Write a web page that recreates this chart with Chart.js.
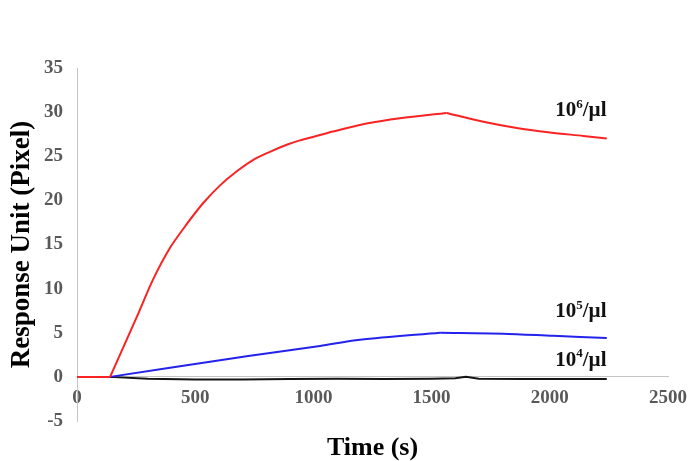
<!DOCTYPE html>
<html>
<head>
<meta charset="utf-8">
<script src="https://cdn.jsdelivr.net/npm/chart.js@4.4.1/dist/chart.umd.min.js"></script>
<style>
  body { margin: 0; background: #fff; }
  #wrap { width: 700px; height: 461px; }
</style>
</head>
<body>
<div id="wrap"><canvas id="sensor-chart" width="700" height="461"></canvas></div>
<script>
// response curves (time in s, response in pixel)
const redTime   = [0, 140, 253, 323, 393, 464, 534, 605, 676, 746, 816, 887, 943, 1028, 1083, 1225, 1366, 1564, 1719, 1860, 2001, 2142, 2241];
const redResp   = [0, 0, 6.8, 11.1, 14.6, 17.3, 19.7, 21.7, 23.3, 24.6, 25.5, 26.3, 26.8, 27.4, 27.8, 28.7, 29.3, 29.9, 28.9, 28.2, 27.7, 27.3, 27.0];

const blueTime  = [0, 140, 633, 816, 1028, 1197, 1536, 1803, 2015, 2241];
const blueResp  = [0, 0, 2.0, 2.7, 3.5, 4.2, 5.0, 4.9, 4.65, 4.4];

const blackTime = [0, 140, 300, 500, 700, 900, 1100, 1300, 1500, 1600, 1645, 1700, 1900, 2100, 2241];
const blackResp = [0, 0, -0.2, -0.3, -0.3, -0.25, -0.2, -0.25, -0.2, -0.15, 0.0, -0.2, -0.25, -0.25, -0.25];

const seriesNames = ['6', '5', '4'];   // exponent of 10 per µl
const injectTime = 140;                // sample injected here, curves start rising

const xTicks = [0, 500, 1000, 1500, 2000, 2500];
const yTicks = [-5, 0, 5, 10, 15, 20, 25, 30, 35];

const serif = "'Liberation Serif', 'Times New Roman', serif";

// baseline / association / dissociation pieces so the corners stay sharp
function phases(ts, vs, color, tension) {
    const pts = ts.map((t, i) => ({x: t, y: vs[i]}));
    const a = ts.indexOf(injectTime);
    const b = vs.indexOf(Math.max(...vs));
    const cuts = tension ? [[0, a], [a, b], [b, pts.length - 1]] : [[0, pts.length - 1]];
    return cuts.map(([s, e]) => ({
        data: pts.slice(s, e + 1),
        borderColor: color,
        tension: tension,
    }));
}

// "10^n/µl" tags at the right end of each curve
const curveTags = {
    id: 'curveTags',
    afterDatasetsDraw(chart) {
        const {ctx, scales: {x, y}} = chart;
        const anchors = [[2240, 30.2], [2240, 7.4], [2240, 1.9]];
        ctx.save();
        ctx.fillStyle = '#111';
        ctx.textBaseline = 'middle';
        anchors.forEach(([t, v], i) => {
            const right = x.getPixelForValue(t);
            const py = y.getPixelForValue(v);
            ctx.font = 'bold 21px ' + serif;
            const wBase = ctx.measureText('10').width;
            const wTail = ctx.measureText('/µl').width;
            ctx.font = 'bold 13px ' + serif;
            const wExp = ctx.measureText(seriesNames[i]).width;
            let px = right - (wBase + wExp + wTail);
            ctx.font = 'bold 21px ' + serif;
            ctx.fillText('10', px, py);
            px += wBase;
            ctx.font = 'bold 13px ' + serif;
            ctx.fillText(seriesNames[i], px, py - 6);
            px += wExp;
            ctx.font = 'bold 21px ' + serif;
            ctx.fillText('/µl', px, py);
        });
        ctx.restore();
    }
};

const canvas = document.querySelector('#sensor-chart');

const sensor_chart = new Chart(canvas, {
    type: 'scatter',
    data: {
        datasets: [
            ...phases(redTime, redResp, 'rgb(250, 35, 35)', 0.3),
            ...phases(blueTime, blueResp, 'rgb(35, 35, 235)', 0.3),
            ...phases(blackTime, blackResp, '#151515', 0),
        ]
    },
    options: {
        responsive: false,
        animation: false,
        showLine: true,
        datasets: {
            scatter: {
                borderWidth: 2,
                pointRadius: 0,
            }
        },
        layout: {
            padding: {top: 68, right: 32, bottom: 0, left: 0}
        },
        plugins: {
            legend: { display: false },
            tooltip: { enabled: false },
        },
        scales: {
            x: {
                type: 'linear',
                position: {y: 0},
                min: 0,
                max: 2500,
                afterBuildTicks: s => { s.ticks = xTicks.map(v => ({value: v})); },
                grid: { display: false, drawTicks: false },
                border: { display: true, color: '#c4c4c4', width: 1 },
                ticks: {
                    padding: 10,
                    color: '#595959',
                    callback: v => String(v),
                    font: { family: serif, size: 19, weight: 'bold' },
                },
            },
            xTitle: {
                type: 'linear',
                axis: 'x',
                position: 'bottom',
                afterFit: s => { s.height = 40; },
                grid: { display: false, drawTicks: false },
                border: { display: false },
                ticks: { display: false },
                title: {
                    display: true,
                    text: 'Time (s)',
                    color: '#000',
                    padding: {top: 0, bottom: 0},
                    font: { family: serif, size: 26, weight: 'bold', lineHeight: 1 },
                },
            },
            y: {
                min: -5,
                max: 35,
                afterBuildTicks: s => { s.ticks = yTicks.map(v => ({value: v})); },
                afterFit: s => { s.width = 77; },
                grid: { display: false, drawTicks: false },
                border: { display: true, color: '#c4c4c4', width: 1 },
                ticks: {
                    padding: 14,
                    color: '#595959',
                    font: { family: serif, size: 19, weight: 'bold' },
                },
                title: {
                    display: true,
                    text: 'Response Unit (Pixel)',
                    color: '#000',
                    padding: {top: 6, bottom: 0},
                    font: { family: serif, size: 27, weight: 'bold' },
                },
            }
        }
    },
    plugins: [curveTags]
});
</script>
</body>
</html>
